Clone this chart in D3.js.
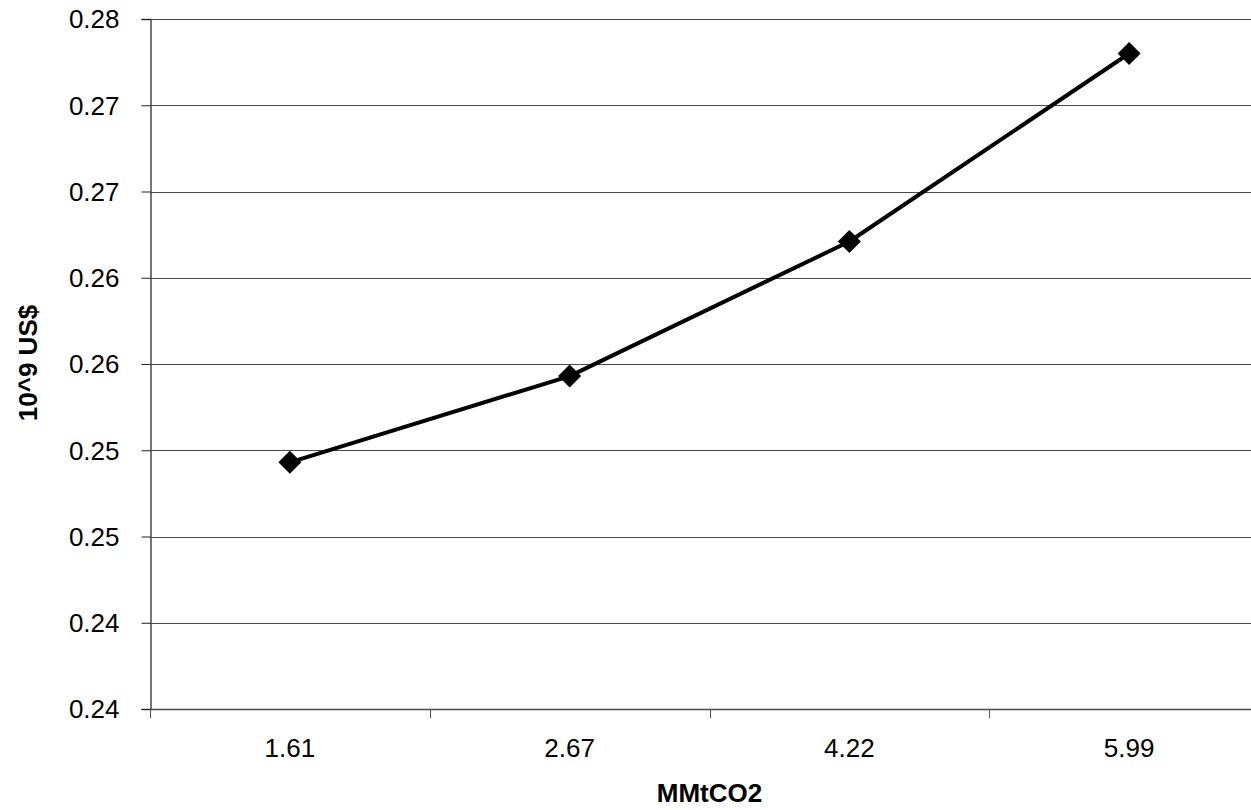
<!DOCTYPE html>
<html>
<head>
<meta charset="utf-8">
<script src="https://cdn.jsdelivr.net/npm/d3@7"></script>
<style>
  html, body { margin: 0; padding: 0; background: #fff; }
  svg { display: block; font-family: "Liberation Sans", Arial, sans-serif; }
</style>
</head>
<body>
<svg id="chart" width="1251" height="810"></svg>
<script>
// Emission reduction (MMtCO2) vs. cost (10^9 US$)
const categories = ["1.61", "2.67", "4.22", "5.99"];
const costValues = [0.2543, 0.2593, 0.2671, 0.2780];
const yTickValues = [0.24, 0.245, 0.25, 0.255, 0.26, 0.265, 0.27, 0.275, 0.28];
const yTickLabels = ["0.24", "0.24", "0.25", "0.25", "0.26", "0.26", "0.27", "0.27", "0.28"];
const xTitle = "MMtCO2";
const yTitle = "10^9 US$";

const FONT = "'Liberation Sans', Arial, sans-serif";
const svg = d3.select("#chart");
const plot = { left: 150, right: 1269, top: 19, bottom: 709 };

const x = d3.scaleBand().domain(categories).range([plot.left, plot.right]);
const y = d3.scaleLinear().domain([0.24, 0.28]).range([plot.bottom, plot.top]);

// horizontal gridlines
svg.append("g")
  .selectAll("line")
  .data(yTickValues.slice(1))
  .join("line")
  .attr("x1", plot.left).attr("x2", plot.right)
  .attr("y1", d => Math.round(y(d)) + 0.5).attr("y2", d => Math.round(y(d)) + 0.5)
  .attr("stroke", "#4a4a4a").attr("stroke-width", 1);

// y axis
const yAxis = d3.axisLeft(y)
  .tickValues(yTickValues)
  .tickSize(9)
  .tickPadding(22)
  .tickFormat((d, i) => yTickLabels[i]);
const gy = svg.append("g")
  .attr("transform", `translate(${plot.left + 0.5},0)`)
  .call(yAxis)
  .attr("font-size", null).attr("font-family", null);
gy.select(".domain").attr("stroke", "#4a4a4a").attr("stroke-width", 1.5);
gy.selectAll(".tick line").attr("stroke", "#222");
gy.selectAll(".tick text")
  .attr("font-size", 26).attr("fill", "#000").attr("font-family", FONT)
  .attr("dy", "0.34em");

// x axis: ticks between categories
const xBoundaries = categories.map(c => x(c)).concat([plot.right]);
const gx = svg.append("g");
gx.append("line")
  .attr("x1", plot.left).attr("x2", plot.right)
  .attr("y1", plot.bottom + 0.5).attr("y2", plot.bottom + 0.5)
  .attr("stroke", "#4a4a4a").attr("stroke-width", 1.5);
gx.selectAll("line.tk")
  .data(xBoundaries)
  .join("line")
  .attr("class", "tk")
  .attr("x1", d => Math.round(d) + 0.5).attr("x2", d => Math.round(d) + 0.5)
  .attr("y1", plot.bottom).attr("y2", plot.bottom + 9)
  .attr("stroke", "#555");
gx.selectAll("text")
  .data(categories)
  .join("text")
  .attr("x", d => x(d) + x.bandwidth() / 2)
  .attr("y", plot.bottom + 48)
  .attr("text-anchor", "middle")
  .attr("font-size", 26)
  .text(d => d);

// series line
const pts = categories.map((c, i) => [x(c) + x.bandwidth() / 2, y(costValues[i])]);
svg.append("path")
  .datum(pts)
  .attr("d", d3.line())
  .attr("fill", "none")
  .attr("stroke", "#000")
  .attr("stroke-width", 4)
  .attr("stroke-linejoin", "round");

// diamond markers
const diamond = d3.symbol().type(d3.symbolSquare).size(265);
svg.append("g")
  .selectAll("path")
  .data(pts)
  .join("path")
  .attr("d", diamond)
  .attr("transform", d => `translate(${d[0]},${d[1]}) rotate(45)`)
  .attr("fill", "#000");

// axis titles
svg.append("text")
  .attr("x", (plot.left + plot.right) / 2).attr("y", 802)
  .attr("text-anchor", "middle")
  .attr("font-size", 26).attr("font-weight", "bold")
  .text(xTitle);
svg.append("text")
  .attr("transform", "translate(37,363) rotate(-90)")
  .attr("text-anchor", "middle")
  .attr("font-size", 26).attr("font-weight", "bold")
  .text(yTitle);
</script>
</body>
</html>
